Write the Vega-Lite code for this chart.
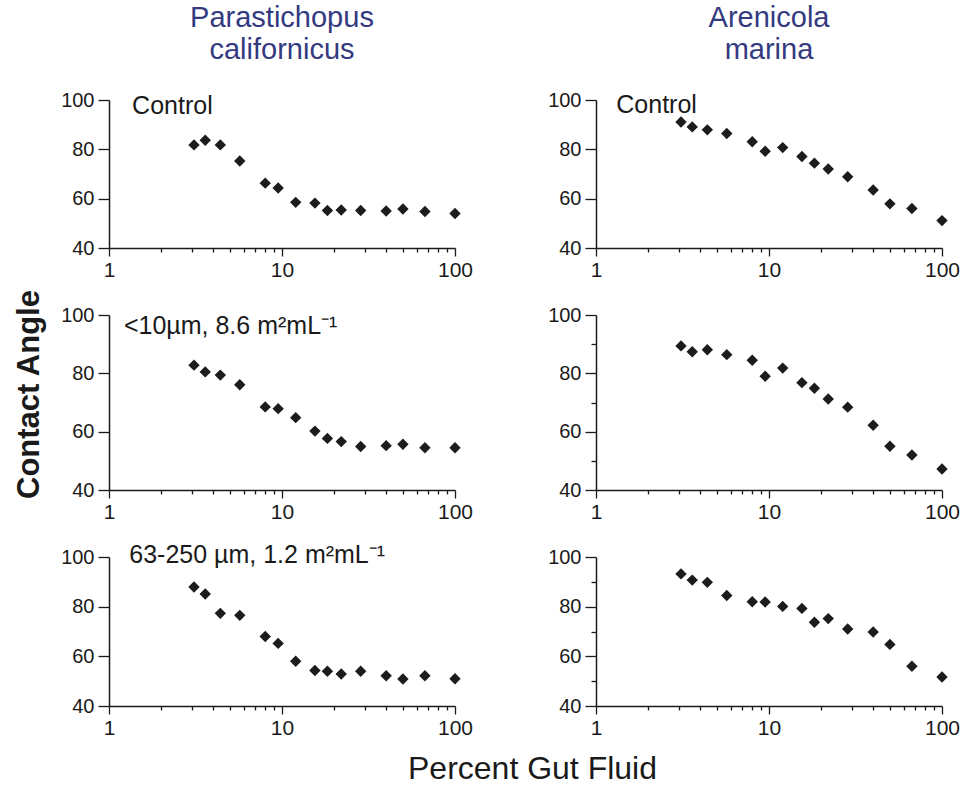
{
  "$schema": "https://vega.github.io/schema/vega-lite/v6.json",
  "background": "white",
  "padding": {"left": 13, "top": 4, "right": 5, "bottom": 5},
  "bounds": "flush",
  "columns": 2,
  "spacing": {"row": 67, "column": 141},
  "datasets": {
    "pts": [
      {"panel":"P1","gut":3.1,"angle":81.8},{"panel":"P1","gut":3.6,"angle":83.7},{"panel":"P1","gut":4.4,"angle":81.8},{"panel":"P1","gut":5.7,"angle":75.3},{"panel":"P1","gut":8,"angle":66.3},{"panel":"P1","gut":9.5,"angle":64.3},{"panel":"P1","gut":12,"angle":58.5},{"panel":"P1","gut":15.5,"angle":58.2},{"panel":"P1","gut":18.3,"angle":55.2},{"panel":"P1","gut":22,"angle":55.4},{"panel":"P1","gut":28.5,"angle":55.2},{"panel":"P1","gut":40,"angle":55.0},{"panel":"P1","gut":50,"angle":55.8},{"panel":"P1","gut":67,"angle":54.8},{"panel":"P1","gut":100,"angle":54.0},
      {"panel":"A1","gut":3.1,"angle":91.1},{"panel":"A1","gut":3.6,"angle":89.1},{"panel":"A1","gut":4.4,"angle":87.9},{"panel":"A1","gut":5.7,"angle":86.4},{"panel":"A1","gut":8,"angle":83.1},{"panel":"A1","gut":9.5,"angle":79.2},{"panel":"A1","gut":12,"angle":80.7},{"panel":"A1","gut":15.5,"angle":77.1},{"panel":"A1","gut":18.3,"angle":74.4},{"panel":"A1","gut":22,"angle":72.0},{"panel":"A1","gut":28.5,"angle":68.9},{"panel":"A1","gut":40,"angle":63.5},{"panel":"A1","gut":50,"angle":57.9},{"panel":"A1","gut":67,"angle":56.0},{"panel":"A1","gut":100,"angle":51.1},
      {"panel":"P2","gut":3.1,"angle":82.8},{"panel":"P2","gut":3.6,"angle":80.5},{"panel":"P2","gut":4.4,"angle":79.4},{"panel":"P2","gut":5.7,"angle":76.1},{"panel":"P2","gut":8,"angle":68.5},{"panel":"P2","gut":9.5,"angle":67.9},{"panel":"P2","gut":12,"angle":64.8},{"panel":"P2","gut":15.5,"angle":60.2},{"panel":"P2","gut":18.3,"angle":57.7},{"panel":"P2","gut":22,"angle":56.6},{"panel":"P2","gut":28.5,"angle":54.9},{"panel":"P2","gut":40,"angle":55.2},{"panel":"P2","gut":50,"angle":55.7},{"panel":"P2","gut":67,"angle":54.5},{"panel":"P2","gut":100,"angle":54.5},
      {"panel":"A2","gut":3.1,"angle":89.4},{"panel":"A2","gut":3.6,"angle":87.4},{"panel":"A2","gut":4.4,"angle":88.1},{"panel":"A2","gut":5.7,"angle":86.4},{"panel":"A2","gut":8,"angle":84.5},{"panel":"A2","gut":9.5,"angle":79.0},{"panel":"A2","gut":12,"angle":81.8},{"panel":"A2","gut":15.5,"angle":76.8},{"panel":"A2","gut":18.3,"angle":74.9},{"panel":"A2","gut":22,"angle":71.2},{"panel":"A2","gut":28.5,"angle":68.4},{"panel":"A2","gut":40,"angle":62.2},{"panel":"A2","gut":50,"angle":55.0},{"panel":"A2","gut":67,"angle":52.0},{"panel":"A2","gut":100,"angle":47.2},
      {"panel":"P3","gut":3.1,"angle":87.9},{"panel":"P3","gut":3.6,"angle":85.1},{"panel":"P3","gut":4.4,"angle":77.3},{"panel":"P3","gut":5.7,"angle":76.5},{"panel":"P3","gut":8,"angle":68.0},{"panel":"P3","gut":9.5,"angle":65.2},{"panel":"P3","gut":12,"angle":58.0},{"panel":"P3","gut":15.5,"angle":54.3},{"panel":"P3","gut":18.3,"angle":54.0},{"panel":"P3","gut":22,"angle":52.9},{"panel":"P3","gut":28.5,"angle":54.0},{"panel":"P3","gut":40,"angle":52.2},{"panel":"P3","gut":50,"angle":50.9},{"panel":"P3","gut":67,"angle":52.2},{"panel":"P3","gut":100,"angle":51.0},
      {"panel":"A3","gut":3.1,"angle":93.2},{"panel":"A3","gut":3.6,"angle":90.7},{"panel":"A3","gut":4.4,"angle":89.8},{"panel":"A3","gut":5.7,"angle":84.5},{"panel":"A3","gut":8,"angle":82.0},{"panel":"A3","gut":9.5,"angle":81.9},{"panel":"A3","gut":12,"angle":80.1},{"panel":"A3","gut":15.5,"angle":79.3},{"panel":"A3","gut":18.3,"angle":73.7},{"panel":"A3","gut":22,"angle":75.2},{"panel":"A3","gut":28.5,"angle":71.0},{"panel":"A3","gut":40,"angle":69.8},{"panel":"A3","gut":50,"angle":64.8},{"panel":"A3","gut":67,"angle":56.0},{"panel":"A3","gut":100,"angle":51.7}
    ],
    "notes": [
      {"panel":"P1","label":"Control"},
      {"panel":"A1","label":"Control"},
      {"panel":"P2","label":"<10µm, 8.6 m²mL⁻¹"},
      {"panel":"P3","label":"63-250 µm, 1.2 m²mL⁻¹"}
    ]
  },
  "concat": [
    {
      "width": 346, "height": 148,
      "title": {"text": ["Parastichopus", "californicus"]},
      "layer": [
        {
          "data": {"name": "pts"},
          "transform": [{"filter": "datum.panel == 'P1'"}],
          "mark": {"type": "point", "shape": "diamond", "filled": true, "size": 130, "color": "#1c1c1c", "opacity": 1},
          "encoding": {
            "x": {"field": "gut", "type": "quantitative", "scale": {"type": "log", "domain": [1, 100]},
              "axis": {"title": null, "values": [1,2,3,4,5,6,7,8,9,10,20,30,40,50,60,70,80,90,100], "labelExpr": "(datum.value == 1 || datum.value == 10 || datum.value == 100) ? format(datum.value, 'd') : ''", "tickSize": {"condition": {"test": "datum.value == 1 || datum.value == 10 || datum.value == 100", "value": 8}, "value": 4}}},
            "y": {"field": "angle", "type": "quantitative", "scale": {"domain": [40, 100], "nice": false, "zero": false},
              "axis": {"title": null, "values": [40,50,60,70,80,90,100], "labelExpr": "datum.value % 20 == 0 ? datum.label : ''", "tickSize": {"condition": {"test": "datum.value % 20 == 0", "value": 11}, "value": 5}}}
          }
        },
        {
          "data": {"name": "notes"},
          "transform": [{"filter": "datum.panel == 'P1'"}],
          "mark": {"type": "text", "align": "left", "baseline": "middle", "fontSize": 25, "font": "Liberation Sans", "color": "#1a1a1a", "dy": 6},
          "encoding": {"x": {"datum": 1.36}, "y": {"datum": 100}, "text": {"field": "label"}}
        }
      ]
    },
    {
      "width": 346, "height": 148,
      "title": {"text": ["Arenicola", "marina"]},
      "layer": [
        {
          "data": {"name": "pts"},
          "transform": [{"filter": "datum.panel == 'A1'"}],
          "mark": {"type": "point", "shape": "diamond", "filled": true, "size": 130, "color": "#1c1c1c", "opacity": 1},
          "encoding": {
            "x": {"field": "gut", "type": "quantitative", "scale": {"type": "log", "domain": [1, 100]},
              "axis": {"title": null, "values": [1,2,3,4,5,6,7,8,9,10,20,30,40,50,60,70,80,90,100], "labelExpr": "(datum.value == 1 || datum.value == 10 || datum.value == 100) ? format(datum.value, 'd') : ''", "tickSize": {"condition": {"test": "datum.value == 1 || datum.value == 10 || datum.value == 100", "value": 8}, "value": 4}}},
            "y": {"field": "angle", "type": "quantitative", "scale": {"domain": [40, 100], "nice": false, "zero": false},
              "axis": {"title": null, "values": [40,50,60,70,80,90,100], "labelExpr": "datum.value % 20 == 0 ? datum.label : ''", "tickSize": {"condition": {"test": "datum.value % 20 == 0", "value": 11}, "value": 5}}}
          }
        },
        {
          "data": {"name": "notes"},
          "transform": [{"filter": "datum.panel == 'A1'"}],
          "mark": {"type": "text", "align": "left", "baseline": "middle", "fontSize": 25, "font": "Liberation Sans", "color": "#1a1a1a", "dy": 5},
          "encoding": {"x": {"datum": 1.31}, "y": {"datum": 100}, "text": {"field": "label"}}
        }
      ]
    },
    {
      "width": 346, "height": 175,
      "layer": [
        {
          "data": {"name": "pts"},
          "transform": [{"filter": "datum.panel == 'P2'"}],
          "mark": {"type": "point", "shape": "diamond", "filled": true, "size": 130, "color": "#1c1c1c", "opacity": 1},
          "encoding": {
            "x": {"field": "gut", "type": "quantitative", "scale": {"type": "log", "domain": [1, 100]},
              "axis": {"title": null, "values": [1,2,3,4,5,6,7,8,9,10,20,30,40,50,60,70,80,90,100], "labelExpr": "(datum.value == 1 || datum.value == 10 || datum.value == 100) ? format(datum.value, 'd') : ''", "tickSize": {"condition": {"test": "datum.value == 1 || datum.value == 10 || datum.value == 100", "value": 8}, "value": 4}}},
            "y": {"field": "angle", "type": "quantitative", "scale": {"domain": [40, 100], "nice": false, "zero": false},
              "axis": {"title": "Contact Angle", "titleFontSize": 31, "titleFontWeight": "bold", "titlePadding": 15, "titleY": 79, "values": [40,50,60,70,80,90,100], "labelExpr": "datum.value % 20 == 0 ? datum.label : ''", "tickSize": {"condition": {"test": "datum.value % 20 == 0", "value": 11}, "value": 5}}}
          }
        },
        {
          "data": {"name": "notes"},
          "transform": [{"filter": "datum.panel == 'P2'"}],
          "mark": {"type": "text", "align": "left", "baseline": "middle", "fontSize": 25, "font": "Liberation Sans", "color": "#1a1a1a", "dy": 11},
          "encoding": {"x": {"datum": 1.22}, "y": {"datum": 100}, "text": {"field": "label"}}
        }
      ]
    },
    {
      "width": 346, "height": 175,
      "data": {"name": "pts"},
      "transform": [{"filter": "datum.panel == 'A2'"}],
      "mark": {"type": "point", "shape": "diamond", "filled": true, "size": 130, "color": "#1c1c1c", "opacity": 1},
      "encoding": {
        "x": {"field": "gut", "type": "quantitative", "scale": {"type": "log", "domain": [1, 100]},
          "axis": {"title": null, "values": [1,2,3,4,5,6,7,8,9,10,20,30,40,50,60,70,80,90,100], "labelExpr": "(datum.value == 1 || datum.value == 10 || datum.value == 100) ? format(datum.value, 'd') : ''", "tickSize": {"condition": {"test": "datum.value == 1 || datum.value == 10 || datum.value == 100", "value": 8}, "value": 4}}},
        "y": {"field": "angle", "type": "quantitative", "scale": {"domain": [40, 100], "nice": false, "zero": false},
          "axis": {"title": null, "values": [40,50,60,70,80,90,100], "labelExpr": "datum.value % 20 == 0 ? datum.label : ''", "tickSize": {"condition": {"test": "datum.value % 20 == 0", "value": 11}, "value": 5}}}
      }
    },
    {
      "width": 346, "height": 149,
      "layer": [
        {
          "data": {"name": "pts"},
          "transform": [{"filter": "datum.panel == 'P3'"}],
          "mark": {"type": "point", "shape": "diamond", "filled": true, "size": 130, "color": "#1c1c1c", "opacity": 1},
          "encoding": {
            "x": {"field": "gut", "type": "quantitative", "scale": {"type": "log", "domain": [1, 100]},
              "axis": {"title": "Percent Gut Fluid", "titleFontSize": 32, "titleFontWeight": "normal", "titleX": 423, "titleY": 72, "titleAlign": "center", "titleBaseline": "alphabetic", "values": [1,2,3,4,5,6,7,8,9,10,20,30,40,50,60,70,80,90,100], "labelExpr": "(datum.value == 1 || datum.value == 10 || datum.value == 100) ? format(datum.value, 'd') : ''", "tickSize": {"condition": {"test": "datum.value == 1 || datum.value == 10 || datum.value == 100", "value": 8}, "value": 4}}},
            "y": {"field": "angle", "type": "quantitative", "scale": {"domain": [40, 100], "nice": false, "zero": false},
              "axis": {"title": null, "values": [40,50,60,70,80,90,100], "labelExpr": "datum.value % 20 == 0 ? datum.label : ''", "tickSize": {"condition": {"test": "datum.value % 20 == 0", "value": 11}, "value": 5}}}
          }
        },
        {
          "data": {"name": "notes"},
          "transform": [{"filter": "datum.panel == 'P3'"}],
          "mark": {"type": "text", "align": "left", "baseline": "middle", "fontSize": 25, "font": "Liberation Sans", "color": "#1a1a1a", "dy": -2},
          "encoding": {"x": {"datum": 1.31}, "y": {"datum": 100}, "text": {"field": "label"}}
        }
      ]
    },
    {
      "width": 346, "height": 149,
      "data": {"name": "pts"},
      "transform": [{"filter": "datum.panel == 'A3'"}],
      "mark": {"type": "point", "shape": "diamond", "filled": true, "size": 130, "color": "#1c1c1c", "opacity": 1},
      "encoding": {
        "x": {"field": "gut", "type": "quantitative", "scale": {"type": "log", "domain": [1, 100]},
          "axis": {"title": null, "values": [1,2,3,4,5,6,7,8,9,10,20,30,40,50,60,70,80,90,100], "labelExpr": "(datum.value == 1 || datum.value == 10 || datum.value == 100) ? format(datum.value, 'd') : ''", "tickSize": {"condition": {"test": "datum.value == 1 || datum.value == 10 || datum.value == 100", "value": 8}, "value": 4}}},
        "y": {"field": "angle", "type": "quantitative", "scale": {"domain": [40, 100], "nice": false, "zero": false},
          "axis": {"title": null, "values": [40,50,60,70,80,90,100], "labelExpr": "datum.value % 20 == 0 ? datum.label : ''", "tickSize": {"condition": {"test": "datum.value % 20 == 0", "value": 11}, "value": 5}}}
      }
    }
  ],
  "config": {
    "view": {"stroke": null},
    "font": "Liberation Sans",
    "title": {"fontSize": 29, "font": "Liberation Sans", "fontWeight": "normal", "color": "#343a80", "lineHeight": 32, "offset": 25, "anchor": "middle"},
    "axis": {"grid": false, "domainColor": "#1a1a1a", "domainWidth": 1.5, "tickColor": "#1a1a1a", "tickWidth": 1.3, "labelFont": "Liberation Sans", "labelColor": "#1a1a1a", "labelOverlap": false, "labelFlush": false, "labelBound": false, "titleFont": "Liberation Sans", "titleColor": "#1a1a1a"},
    "axisX": {"labelFontSize": 21, "labelPadding": 3},
    "axisY": {"labelFontSize": 20, "labelPadding": 4}
  }
}
